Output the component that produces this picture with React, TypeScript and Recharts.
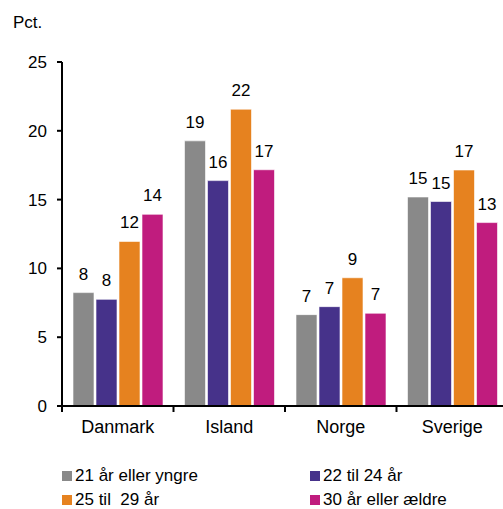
import { BarChart, Bar, XAxis, YAxis, LabelList, Legend } from 'recharts'

const countries = ['Danmark', 'Island', 'Norge', 'Sverige']
const ungre21 = [8.24, 19.27, 6.64, 15.19]
const til24 = [7.75, 16.38, 7.22, 14.86]
const til29 = [11.96, 21.57, 9.32, 17.15]
const aeldre30 = [13.93, 17.17, 6.74, 13.33]
const yTicks = [0, 5, 10, 15, 20, 25]

const series = [
  { key: 'a', name: '21 år eller yngre', color: '#898989' },
  { key: 'b', name: '22 til 24 år', color: '#46328a' },
  { key: 'c', name: '25 til  29 år', color: '#e6821f' },
  { key: 'd', name: '30 år eller ældre', color: '#c01c7e' },
]

const data = countries.map((name, i) => ({
  name,
  a: ungre21[i],
  b: til24[i],
  c: til29[i],
  d: aeldre30[i],
}))

const FONT = '"Liberation Sans", Arial, sans-serif'
const BAND = 111.5

const CategoryTick = (props: any) => {
  const { x, y, payload } = props
  return (
    <g>
      <line x1={x - BAND / 2} x2={x - BAND / 2} y1={y - 8} y2={y - 2} stroke="#000" strokeWidth={2} />
      <text x={x} y={y + 19} textAnchor="middle" fontSize={18} fontFamily={FONT} fill="#000">
        {payload.value}
      </text>
    </g>
  )
}

const LegendBox = () => (
  <div style={{ display: 'grid', gridTemplateColumns: '248px 192px', rowGap: 6, fontFamily: FONT, fontSize: 17, lineHeight: '18px' }}>
    {series.map((s) => (
      <div key={s.key} style={{ display: 'flex', alignItems: 'center', height: 18, whiteSpace: 'pre' }}>
        <span style={{ width: 10, height: 10, background: s.color, marginRight: 3, display: 'inline-block' }} />
        {s.name}
      </div>
    ))}
  </div>
)

export default function App() {
  return (
    <div style={{ position: 'relative', width: 503, height: 509, fontFamily: FONT }}>
      <style>{'html, body { margin: 0; overflow: hidden; }'}</style>
      <div style={{ position: 'absolute', left: 13, top: 13, fontSize: 17, color: '#000', zIndex: 1 }}>Pct.</div>
      <BarChart
        width={503}
        height={509}
        data={data}
        margin={{ top: 62, right: -5, left: 8, bottom: 21 }}
        barSize={21}
        barGap={2}
      >
        <XAxis
          dataKey="name"
          axisLine={{ stroke: '#000', strokeWidth: 2 }}
          tickLine={false}
          tick={<CategoryTick />}
          interval={0}
          height={40}
        />
        <YAxis
          domain={[0, 25]}
          ticks={yTicks}
          width={54}
          axisLine={{ stroke: '#000', strokeWidth: 2 }}
          tickLine={{ stroke: '#000', strokeWidth: 2 }}
          tickSize={5}
          tickMargin={10}
          tick={{ fill: '#000', fontSize: 17, fontFamily: FONT }}
        />
        <Legend
          content={<LegendBox />}
          wrapperStyle={{ position: 'absolute', left: 62, top: 467, width: 440 }}
        />
        {series.map((s) => (
          <Bar key={s.key} dataKey={s.key} name={s.name} fill={s.color} stroke="#ffffff" strokeWidth={0.6} isAnimationActive={false}>
            <LabelList
              dataKey={s.key}
              position="top"
              offset={13}
              formatter={(v: any) => Math.round(Number(v))}
              style={{ fill: '#000', fontSize: 17, fontFamily: FONT }}
            />
          </Bar>
        ))}
      </BarChart>
    </div>
  )
}
